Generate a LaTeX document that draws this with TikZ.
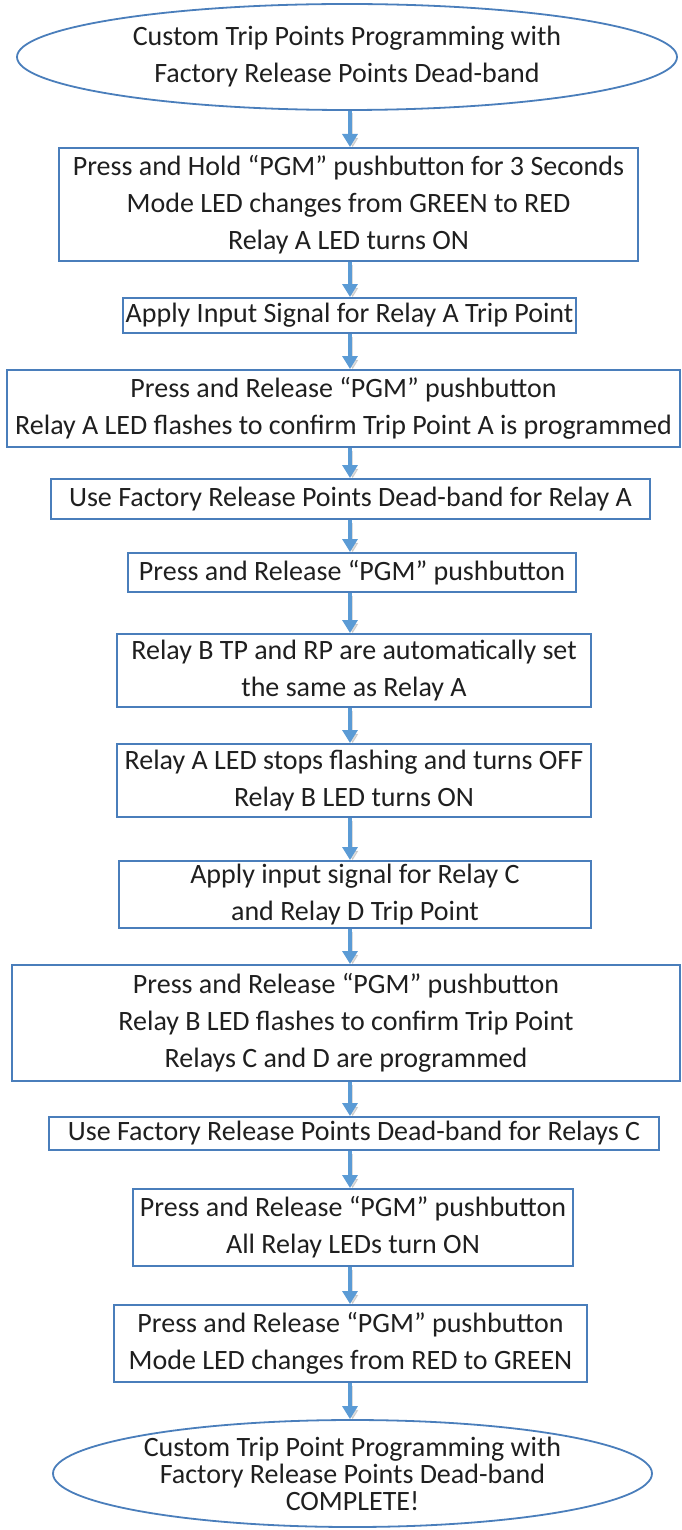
\documentclass[tikz,border=0pt]{standalone}
\usepackage{fontspec}
\setmainfont{Carlito}
\usetikzlibrary{shapes.geometric,arrows.meta}
\definecolor{boxblue}{HTML}{4A7EBB}
\definecolor{arrblue}{HTML}{5B9BD5}

\begin{document}
\begin{tikzpicture}[x=0.5pt,y=-0.5pt,
	stepbox/.style={rectangle,draw=boxblue,line width=1pt,inner sep=0pt,align=center,text=black!88,font=\fontsize{14}{18.5}\selectfont},
	term/.style={ellipse,draw=boxblue,line width=0.9pt,inner sep=0pt,align=center,text=black!88,font=\fontsize{14}{18.5}\selectfont},
	flow/.style={draw=arrblue,line width=1.6pt,-{Triangle[width=7.5pt,length=6.5pt]},
		preaction={draw=black!45,opacity=0.3,transform canvas={shift={(1.3pt,-1.3pt)}}}}]
\useasboundingbox (0,0) rectangle (681,1530);
\node[term,minimum width=330pt,minimum height=53pt] at (347,57) (start) {Custom Trip Points Programming with\\Factory Release Points Dead-band};
\node[stepbox,minimum width=289.5pt,minimum height=56.5pt] at (348.5,204.5) (b1) {Press and Hold “PGM” pushbutton for 3 Seconds\\Mode LED changes from GREEN to RED\\Relay A LED turns ON};
\node[stepbox,minimum width=226.5pt,minimum height=17.5pt] at (349.5,315.5) (b2) {Apply Input Signal for Relay A Trip Point};
\node[stepbox,minimum width=336.5pt,minimum height=38.5pt] at (343.5,408.5) (b3) {Press and Release “PGM” pushbutton\\Relay A LED flashes to confirm Trip Point A is programmed};
\node[stepbox,minimum width=299.5pt,minimum height=20pt] at (350.5,499) (b4) {Use Factory Release Points Dead-band for Relay A};
\node[stepbox,minimum width=224pt,minimum height=19.5pt] at (352,572.5) (b5) {Press and Release “PGM” pushbutton};
\node[stepbox,minimum width=237pt,minimum height=36.5pt] at (354,670.5) (b6) {Relay B TP and RP are automatically set\\the same as Relay A};
\node[stepbox,minimum width=237pt,minimum height=36.5pt] at (354,780.5) (b7) {Relay A LED stops flashing and turns OFF\\Relay B LED turns ON};
\node[stepbox,minimum width=236pt,minimum height=33.5pt] at (355,894.5) (b8) {Apply input signal for Relay C\\and Relay D Trip Point};
\node[stepbox,minimum width=334pt,minimum height=58pt] at (346,1023) (b9) {Press and Release “PGM” pushbutton\\Relay B LED flashes to confirm Trip Point\\Relays C and D are programmed};
\node[stepbox,minimum width=305pt,minimum height=16.5pt] at (354,1133.5) (b10) {Use Factory Release Points Dead-band for Relays C};
\node[stepbox,minimum width=220pt,minimum height=38.5pt] at (353,1227.5) (b11) {Press and Release “PGM” pushbutton\\All Relay LEDs turn ON};
\node[stepbox,minimum width=236.5pt,minimum height=38.5pt] at (350.5,1343.5) (b12) {Press and Release “PGM” pushbutton\\Mode LED changes from RED to GREEN};
\node[term,minimum width=299.5pt,minimum height=53.5pt,inner ysep=-6pt,font=\fontsize{14}{13.5}\selectfont] at (352.5,1473.5) (end) {Custom Trip Point Programming with\\Factory Release Points Dead-band\\COMPLETE!};
\coordinate (ax) at (350,0);
\foreach \a/\b in {start/b1,b1/b2,b2/b3,b3/b4,b4/b5,b5/b6,b6/b7,b7/b8,b8/b9,b9/b10,b10/b11,b11/b12,b12/end}
{
	\draw[flow] (\a.south -| ax) -- (\b.north -| ax);
}
\end{tikzpicture}
\end{document}
